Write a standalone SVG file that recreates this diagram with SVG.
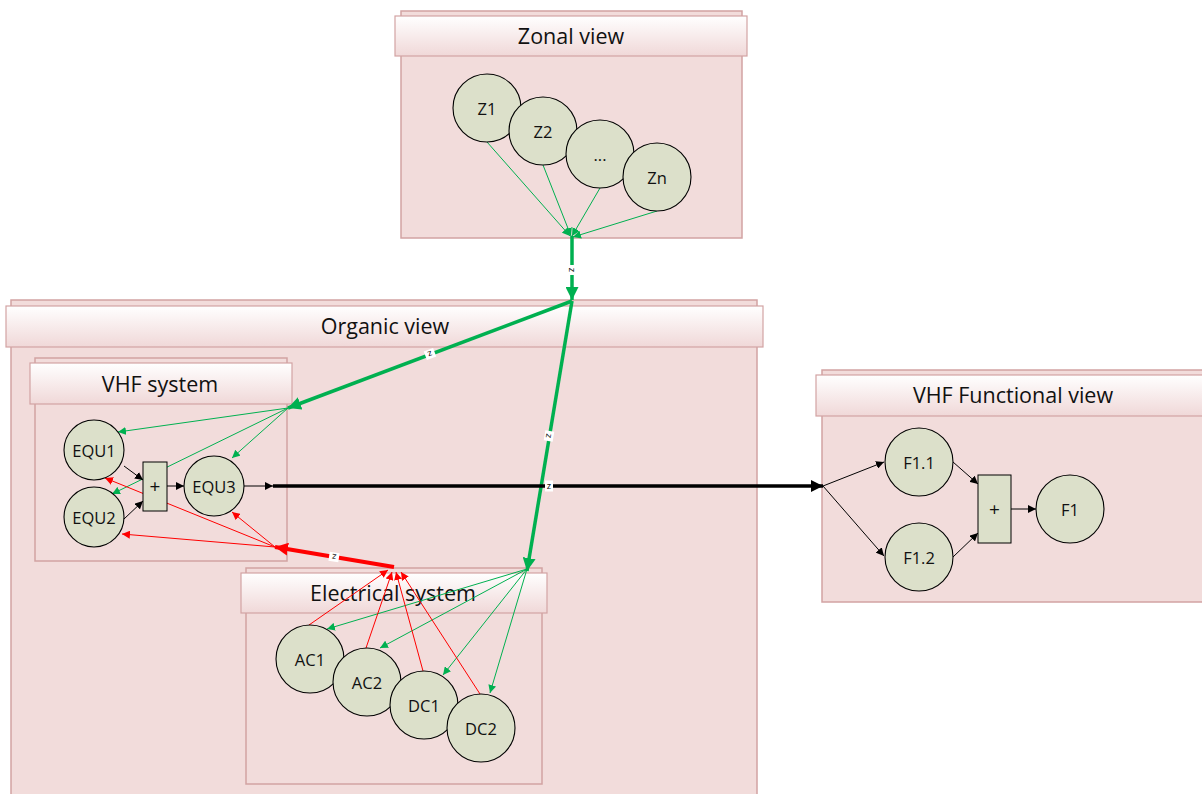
<svg xmlns="http://www.w3.org/2000/svg" width="1202" height="794" viewBox="0 0 1202 794">
  <defs>
    <linearGradient id="hdr" x1="0" y1="0" x2="0" y2="1">
      <stop offset="0" stop-color="#ffffff"/>
      <stop offset="1" stop-color="#f0d8d8"/>
    </linearGradient>
    <marker id="ahK" viewBox="0 0 10 10" refX="10" refY="5" markerWidth="8" markerHeight="8" markerUnits="userSpaceOnUse" orient="auto">
      <path d="M0,0 L10,5 L0,10 z" fill="#000"/>
    </marker>
    <marker id="ahKb" viewBox="0 0 10 10" refX="10" refY="5" markerWidth="12" markerHeight="12" markerUnits="userSpaceOnUse" orient="auto">
      <path d="M0,0 L10,5 L0,10 z" fill="#000"/>
    </marker>
    <marker id="ahG" viewBox="0 0 10 10" refX="10" refY="5" markerWidth="8" markerHeight="8" markerUnits="userSpaceOnUse" orient="auto">
      <path d="M0,0 L10,5 L0,10 z" fill="#00b050"/>
    </marker>
    <marker id="ahGb" viewBox="0 0 10 10" refX="10" refY="5" markerWidth="13" markerHeight="13" markerUnits="userSpaceOnUse" orient="auto">
      <path d="M0,0 L10,5 L0,10 z" fill="#00b050"/>
    </marker>
    <marker id="ahR" viewBox="0 0 10 10" refX="10" refY="5" markerWidth="8" markerHeight="8" markerUnits="userSpaceOnUse" orient="auto">
      <path d="M0,0 L10,5 L0,10 z" fill="#ff0000"/>
    </marker>
    <marker id="ahRb" viewBox="0 0 10 10" refX="10" refY="5" markerWidth="13" markerHeight="13" markerUnits="userSpaceOnUse" orient="auto">
      <path d="M0,0 L10,5 L0,10 z" fill="#ff0000"/>
    </marker>
  </defs>
  <style>
    .box { fill: #f2dcdb; stroke: #d2a3a3; stroke-width: 1.5; }
    .hdr { fill: url(#hdr); stroke: #d2a3a3; stroke-width: 1.2; }
    .ttl { font-family: "Open Sans", "Liberation Sans", sans-serif; font-size: 21.5px; fill: #111; text-anchor: middle; dominant-baseline: central; }
    .nd { fill: #dce0ca; stroke: #000; stroke-width: 1.1; }
    .lbl { font-family: "Open Sans", "Liberation Sans", sans-serif; font-size: 16.5px; fill: #111; text-anchor: middle; dominant-baseline: central; }
    .pl { font-family: "Open Sans", "Liberation Sans", sans-serif; font-size: 19px; fill: #111; text-anchor: middle; dominant-baseline: central; }
    .sum { fill: #dce0ca; stroke: #000; stroke-width: 1; }
    .k { stroke: #000; stroke-width: 1; fill: none; marker-end: url(#ahK); }
    .kb { stroke: #000; stroke-width: 3.5; fill: none; marker-end: url(#ahKb); }
    .g { stroke: #00b050; stroke-width: 1; fill: none; marker-end: url(#ahG); }
    .gb { stroke: #00b050; stroke-width: 3.5; fill: none; marker-end: url(#ahGb); }
    .r { stroke: #ff0000; stroke-width: 1; fill: none; marker-end: url(#ahR); }
    .rb { stroke: #ff0000; stroke-width: 4; fill: none; marker-end: url(#ahRb); }
    .zb { fill: #ffffff; }
    .zt { font-family: "Liberation Sans", sans-serif; font-size: 9px; fill: #111; text-anchor: middle; dominant-baseline: central; }
  </style>

  <!-- container views -->
  <g id="zonal-view">
    <rect class="box" x="401" y="11" width="341" height="227"/>
    <rect class="hdr" x="395" y="16" width="352" height="40"/>
    <text class="ttl" x="571" y="35">Zonal view</text>
  </g>
  <g id="organic-view">
    <rect class="box" x="11" y="300" width="746" height="500"/>
    <rect class="hdr" x="6" y="306" width="757" height="41"/>
    <text class="ttl" x="385" y="325">Organic view</text>
  </g>
  <g id="vhf-system">
    <rect class="box" x="35" y="358" width="252" height="203"/>
    <rect class="hdr" x="30" y="363" width="262" height="41"/>
    <text class="ttl" x="160" y="383">VHF system</text>
  </g>
  <g id="electrical-system">
    <rect class="box" x="246" y="568" width="296" height="216"/>
    <rect class="hdr" x="241" y="573" width="306" height="40"/>
    <text class="ttl" x="393" y="592">Electrical system</text>
  </g>
  <g id="vhf-functional-view">
    <rect class="box" x="822" y="370" width="390" height="232"/>
    <rect class="hdr" x="816" y="375" width="396" height="41"/>
    <text class="ttl" x="1013" y="394">VHF Functional view</text>
  </g>

  <!-- connectors -->
  <g id="connectors">
    <!-- zones to zonal hub -->
    <line class="g" x1="487" y1="142" x2="570" y2="236"/>
    <line class="g" x1="543" y1="165" x2="571" y2="236"/>
    <line class="g" x1="600" y1="188" x2="572" y2="236"/>
    <line class="g" x1="657" y1="211" x2="573" y2="237"/>

    <!-- zonal hub to organic hub -->
    <line class="gb" x1="572" y1="236" x2="572" y2="300"/>
    <!-- organic hub to VHF system -->
    <line class="gb" x1="572" y1="301" x2="288" y2="408"/>
    <!-- organic hub to electrical system -->
    <line class="gb" x1="572" y1="301" x2="527" y2="571"/>

    <!-- VHF hub to equipments -->
    <line class="g" x1="288" y1="408" x2="118" y2="432"/>
    <line class="g" x1="288" y1="408" x2="112" y2="494"/>
    <line class="g" x1="288" y1="408" x2="232" y2="458"/>

    <!-- electrical hub to sources -->
    <line class="g" x1="527" y1="569" x2="327" y2="629"/>
    <line class="g" x1="527" y1="569" x2="380" y2="648"/>
    <line class="g" x1="527" y1="569" x2="443" y2="675"/>
    <line class="g" x1="527" y1="569" x2="490" y2="693"/>

    <!-- sources to electrical supply hub -->
    <line class="r" x1="309" y1="625" x2="388" y2="570"/>
    <line class="r" x1="366" y1="648" x2="392" y2="572"/>
    <line class="r" x1="423" y1="671" x2="396" y2="572"/>
    <line class="r" x1="480" y1="694" x2="401" y2="572"/>

    <!-- supply to VHF system -->
    <line class="rb" x1="394" y1="567" x2="275" y2="547"/>
    <line class="r" x1="275" y1="547" x2="105" y2="478"/>
    <line class="r" x1="275" y1="547" x2="122" y2="534"/>
    <line class="r" x1="275" y1="547" x2="232" y2="512"/>

    <!-- VHF equipment chain -->
    <line class="k" x1="124" y1="466" x2="143" y2="480"/>
    <line class="k" x1="124" y1="519" x2="143" y2="501"/>
    <line class="k" x1="167" y1="486" x2="184" y2="486"/>
    <line class="k" x1="244" y1="486" x2="273" y2="486"/>
    <line class="kb" x1="273" y1="486" x2="823" y2="486"/>

    <!-- functional chain -->
    <line class="k" x1="823" y1="486" x2="884" y2="462"/>
    <line class="k" x1="823" y1="486" x2="884" y2="556"/>
    <line class="k" x1="953" y1="462" x2="978" y2="484"/>
    <line class="k" x1="953" y1="557" x2="978" y2="533"/>
    <line class="k" x1="1011" y1="509" x2="1036" y2="509"/>

    <!-- link labels -->
    <g transform="translate(572,270) rotate(90)">
      <rect class="zb" x="-5" y="-4.5" width="10" height="9"/>
      <text class="zt" x="0" y="0">z</text>
    </g>
    <g transform="translate(430,354) rotate(159)">
      <rect class="zb" x="-5" y="-4.5" width="10" height="9"/>
      <text class="zt" x="0" y="0">z</text>
    </g>
    <g transform="translate(549,436) rotate(99.5)">
      <rect class="zb" x="-5" y="-4.5" width="10" height="9"/>
      <text class="zt" x="0" y="0">z</text>
    </g>
    <g transform="translate(549,486)">
      <rect class="zb" x="-4" y="-5.5" width="8" height="11"/>
      <text class="zt" x="0" y="0">z</text>
    </g>
    <g transform="translate(334,557) rotate(189)">
      <rect class="zb" x="-5" y="-4.5" width="10" height="9"/>
      <text class="zt" x="0" y="0">z</text>
    </g>
  </g>

  <!-- zones -->
  <g id="z1"><circle class="nd" cx="487" cy="108" r="34"/><text class="lbl" x="487" y="108">Z1</text></g>
  <g id="z2"><circle class="nd" cx="543" cy="131" r="34"/><text class="lbl" x="543" y="131">Z2</text></g>
  <g id="z-more"><circle class="nd" cx="600" cy="154" r="34"/><text class="lbl" x="600" y="154">...</text></g>
  <g id="zn"><circle class="nd" cx="657" cy="177" r="34"/><text class="lbl" x="657" y="177">Zn</text></g>

  <!-- VHF equipments -->
  <g id="equ1"><circle class="nd" cx="94" cy="450" r="30"/><text class="lbl" x="94" y="450">EQU1</text></g>
  <g id="equ2"><circle class="nd" cx="94" cy="517" r="30"/><text class="lbl" x="94" y="517">EQU2</text></g>
  <g id="vhf-sum"><rect class="sum" x="143" y="462" width="24" height="49"/><text class="pl" x="155" y="486">+</text></g>
  <g id="equ3"><circle class="nd" cx="214" cy="486" r="30"/><text class="lbl" x="214" y="486">EQU3</text></g>

  <!-- electrical sources -->
  <g id="ac1"><circle class="nd" cx="310" cy="659" r="34"/><text class="lbl" x="310" y="659">AC1</text></g>
  <g id="ac2"><circle class="nd" cx="367" cy="682" r="34"/><text class="lbl" x="367" y="682">AC2</text></g>
  <g id="dc1"><circle class="nd" cx="424" cy="705" r="34"/><text class="lbl" x="424" y="705">DC1</text></g>
  <g id="dc2"><circle class="nd" cx="481" cy="728" r="34"/><text class="lbl" x="481" y="728">DC2</text></g>

  <!-- functions -->
  <g id="f1-1"><circle class="nd" cx="919" cy="462" r="34"/><text class="lbl" x="919" y="462">F1.1</text></g>
  <g id="f1-2"><circle class="nd" cx="919" cy="557" r="34"/><text class="lbl" x="919" y="557">F1.2</text></g>
  <g id="f-sum"><rect class="sum" x="978" y="475" width="33" height="68"/><text class="pl" x="994.5" y="509">+</text></g>
  <g id="f1"><circle class="nd" cx="1070" cy="509" r="34"/><text class="lbl" x="1070" y="509">F1</text></g>
</svg>
